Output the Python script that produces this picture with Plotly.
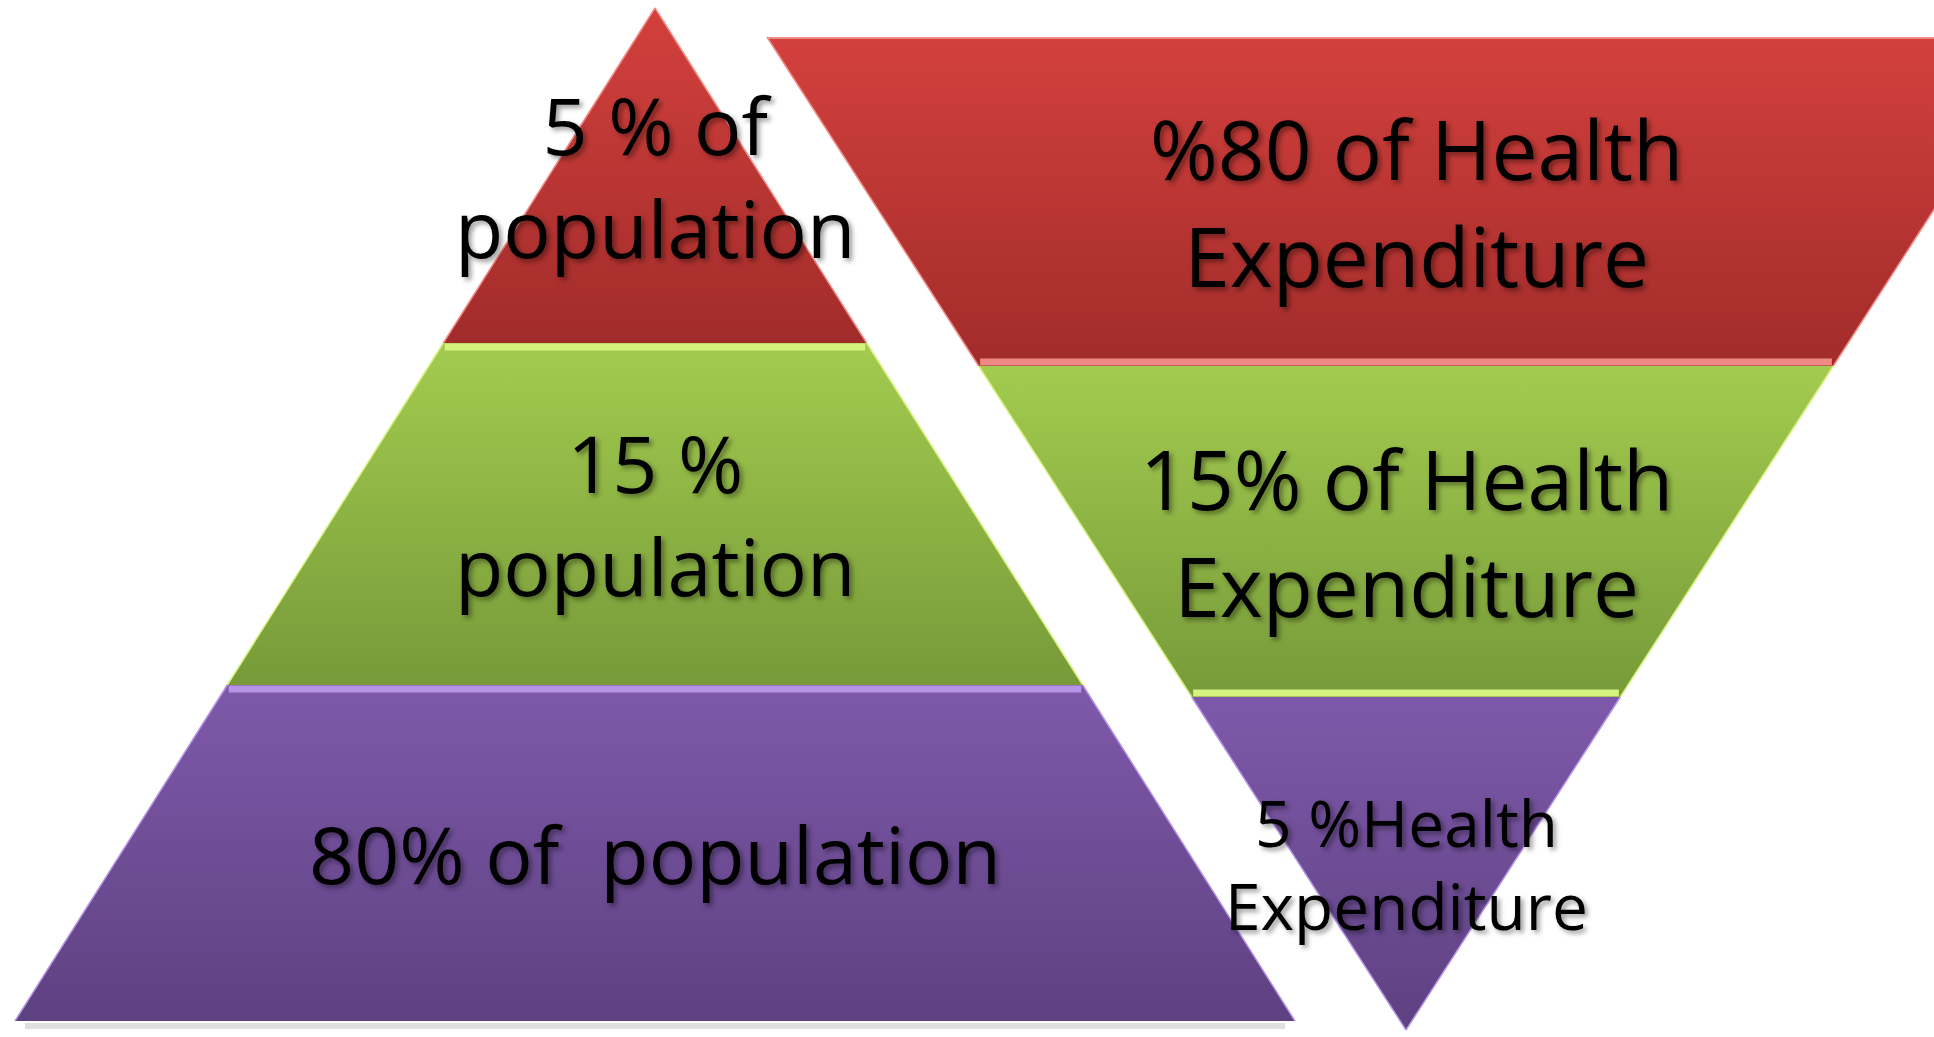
import plotly.graph_objects as go

# ---- data ----
population_shares = [5, 15, 80]          # top -> bottom of left pyramid
expenditure_shares = [80, 15, 5]         # top -> bottom of right (inverted) pyramid
population_labels = ["5 % of<br>population", "15 %<br>population", "80% of\u00a0 population"]
expenditure_labels = ["%80 of Health<br>Expenditure", "15% of Health<br>Expenditure", "5 %Health<br>Expenditure"]
band_names = ["Top", "Middle", "Bottom"]

# ---- geometry / style (layout only) ----
W, H = 1934, 1037
L_APEX_X, L_APEX_Y, L_BASE_Y, L_HALF = 655, 8, 1021, 640
L_BOUNDS = [L_APEX_Y, 343, 685, L_BASE_Y]
R_CX, R_TOP_Y, R_APEX_Y, R_HALF = 1406, 37, 1030, 639
R_BOUNDS = [R_TOP_Y, 366, 697, R_APEX_Y]

colors = {
    "red": ("#d3403d", "#a12c2a", "#f08a86"),
    "green": ("#a3cb4f", "#779a39", "#d6f27e"),
    "purple": ("#7e59aa", "#5e4181", "#b594e6"),
}
left_colors = ["red", "green", "purple"]
right_colors = ["red", "green", "purple"]


def lhalf(y):
    return L_HALF * (y - L_APEX_Y) / (L_BASE_Y - L_APEX_Y)


def rhalf(y):
    return R_HALF * (R_APEX_Y - y) / (R_APEX_Y - R_TOP_Y)


fig = go.Figure()


def band(xs, ys, ctop, cbot, y0, y1, name):
    fig.add_trace(go.Scatter(
        x=xs, y=ys, mode="lines", fill="toself", name=name,
        line=dict(width=0, color=cbot),
        fillgradient=dict(type="vertical", start=y0, stop=y1,
                          colorscale=[[0, ctop], [1, cbot]]),
        hoverinfo="skip", showlegend=False))


def edge_line(xs, ys, color, width):
    fig.add_trace(go.Scatter(x=xs, y=ys, mode="lines",
                             line=dict(color=color, width=width),
                             hoverinfo="skip", showlegend=False))


# shadow under left pyramid base
edge_line([L_APEX_X - L_HALF + 10, L_APEX_X + L_HALF - 10], [L_BASE_Y + 5, L_BASE_Y + 5],
          "rgba(0,0,0,0.12)", 6)

# left pyramid
for i, share in enumerate(population_shares):
    y0, y1 = L_BOUNDS[i], L_BOUNDS[i + 1]
    h0, h1 = lhalf(y0), lhalf(y1)
    xs = [L_APEX_X - h0, L_APEX_X + h0, L_APEX_X + h1, L_APEX_X - h1, L_APEX_X - h0]
    ys = [y0, y0, y1, y1, y0]
    ctop, cbot, chl = colors[left_colors[i]]
    band(xs, ys, ctop, cbot, y0, y1, f"{share}% population")
    edge_line([L_APEX_X - h0, L_APEX_X - h1], [y0, y1], chl, 1.5)
    edge_line([L_APEX_X + h0, L_APEX_X + h1], [y0, y1], chl, 1.5)
    if i > 0:
        edge_line([L_APEX_X - lhalf(y0 + 4) + 4, L_APEX_X + lhalf(y0 + 4) - 4], [y0 + 4, y0 + 4], chl, 7)

# right inverted pyramid
for i, share in enumerate(expenditure_shares):
    y0, y1 = R_BOUNDS[i], R_BOUNDS[i + 1]
    h0, h1 = rhalf(y0), rhalf(y1)
    xs = [R_CX - h0, R_CX + h0, R_CX + h1, R_CX - h1, R_CX - h0]
    ys = [y0, y0, y1, y1, y0]
    ctop, cbot, chl = colors[right_colors[i]]
    band(xs, ys, ctop, cbot, y0, y1, f"{share}% expenditure")
    edge_line([R_CX - h0, R_CX - h1], [y0, y1], chl, 1.5)
    edge_line([R_CX + h0, R_CX + h1], [y0, y1], chl, 1.5)
    if i < 2:
        edge_line([R_CX - rhalf(y1 - 4) + 4, R_CX + rhalf(y1 - 4) - 4], [y1 - 4, y1 - 4], chl, 7)
edge_line([R_CX - rhalf(R_TOP_Y), R_CX + rhalf(R_TOP_Y)], [R_TOP_Y + 1, R_TOP_Y + 1], colors["red"][2], 2)

# labels
shadow = "3px 3px 5px rgba(0,0,0,0.4)"
for i, lab in enumerate(population_labels):
    yc = (L_BOUNDS[i] + L_BOUNDS[i + 1]) / 2
    fig.add_annotation(x=L_APEX_X, y=yc, text=lab, showarrow=False,
                       font=dict(family="Open Sans", size=79, color="#000000", shadow=shadow),
                       xanchor="center", yanchor="middle", align="center")
sizes_r = [82, 82, 64]
for i, lab in enumerate(expenditure_labels):
    yc = (R_BOUNDS[i] + R_BOUNDS[i + 1]) / 2
    fig.add_annotation(x=R_CX + (10 if i == 0 else 0), y=yc, text=lab, showarrow=False,
                       font=dict(family="Open Sans", size=sizes_r[i], color="#000000", shadow=shadow),
                       xanchor="center", yanchor="middle", align="center")

fig.update_layout(
    width=W, height=H,
    margin=dict(l=0, r=0, t=0, b=0),
    paper_bgcolor="white", plot_bgcolor="white",
    xaxis=dict(range=[0, W], visible=False, fixedrange=True),
    yaxis=dict(range=[H, 0], visible=False, fixedrange=True),
    showlegend=False,
)

fig.write_html("out.html")
